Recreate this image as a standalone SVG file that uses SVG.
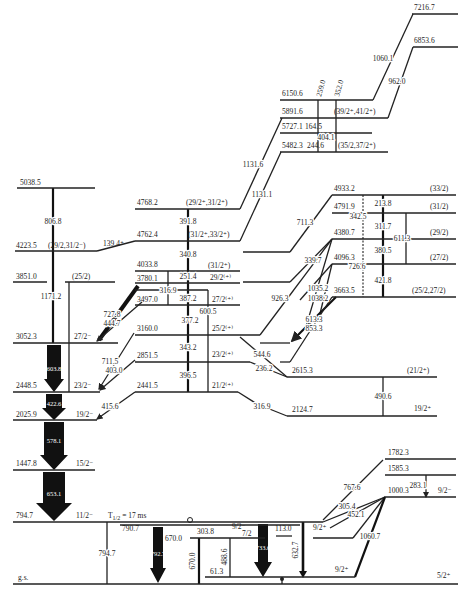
<svg xmlns="http://www.w3.org/2000/svg" width="462" height="591" viewBox="0 0 462 591">
<defs>
<style>
.t{font-family:"Liberation Serif","DejaVu Serif",serif;font-size:7.5px;fill:#222}
.s{font-size:6.5px}
.m{text-anchor:middle}
.h{paint-order:stroke;stroke:#fff;stroke-width:2.6px;stroke-linejoin:round}
.w{fill:#fff;font-size:6.5px;text-anchor:middle}
.lv{stroke:#222;stroke-width:1.4;fill:none}
.tr{stroke:#222;stroke-width:1.3;fill:none}
.tk{stroke:#111;stroke-width:2.2;fill:none}
.bk{fill:#111;stroke:none}
.dt{stroke:#222;stroke-width:1.1;stroke-dasharray:2 1.5;fill:none}
</style>
<marker id="ah" viewBox="0 0 6 6" refX="5" refY="3" markerWidth="5" markerHeight="5" orient="auto"><path d="M0,0L6,3L0,6z" fill="#222"/></marker>
</defs>
<rect width="462" height="591" fill="#fff"/>

<!-- connectors / transitions -->
<g id="connectors">
<!-- left cascade -->
<line class="tk" x1="53" y1="188" x2="53" y2="251"/>
<line class="tk" x1="53" y1="251" x2="53" y2="343" stroke-width="2.8"/>
<line class="tr" x1="69" y1="282" x2="69" y2="392"/>
<path class="bk" d="M47,345H61V379H64L54,392L44,379H47Z"/>
<path class="bk" d="M46,394H62V408H66L54,420L42,408H46Z"/>
<path class="bk" d="M44,422H64V455H68L54,470L40,455H44Z"/>
<path class="bk" d="M43,472H65V503H72L54,521L36,503H43Z"/>
<line class="tr" x1="107" y1="522" x2="107" y2="584"/>
<!-- feeders of 3052.3 / 2448.5 / 2025.9 -->
<line x1="138" y1="286" x2="99" y2="340" stroke="#111" stroke-width="4"/>
<line class="tr" x1="142" y1="302" x2="97" y2="341" marker-end="url(#ah)"/>
<line class="tr" x1="134" y1="333" x2="99" y2="389" marker-end="url(#ah)"/>
<line class="tr" x1="135" y1="360" x2="100" y2="390" marker-end="url(#ah)"/>
<line class="tr" x1="135" y1="392" x2="97" y2="419" marker-end="url(#ah)"/>
<!-- slanted link 4223.5 -->
<line class="lv" x1="97" y1="251" x2="135" y2="241"/>
<!-- middle band -->
<line class="tk" x1="188" y1="209" x2="188" y2="392"/>
<line class="tr" x1="168" y1="271" x2="168" y2="305"/>
<line class="tr" x1="208" y1="290" x2="208" y2="392" stroke-width="1.6"/>
<line class="lv" x1="135" y1="290" x2="208" y2="290"/>
<line class="tr" x1="240" y1="209" x2="282" y2="118"/>
<line class="tr" x1="240" y1="241" x2="281" y2="152"/>
<line class="tr" x1="243" y1="252" x2="290" y2="252"/>
<line class="tr" x1="290" y1="252" x2="332" y2="195"/>
<line class="tr" x1="243" y1="282" x2="290" y2="282"/>
<line class="tr" x1="290" y1="282" x2="332" y2="239"/>
<line class="tr" x1="260" y1="335" x2="332" y2="239"/>
<line class="tr" x1="305" y1="330" x2="332" y2="239"/>
<line class="tr" x1="300" y1="300" x2="332" y2="264"/>
<line class="tr" x1="318" y1="322" x2="332" y2="264"/>
<line class="tr" x1="260" y1="343" x2="290" y2="343"/>
<line x1="336" y1="297" x2="292" y2="341" stroke="#111" stroke-width="2.2" marker-end="url(#ah)"/>
<line class="tr" x1="280" y1="362" x2="290" y2="362"/>
<line class="tr" x1="290" y1="362" x2="332" y2="297"/>
<line class="tr" x1="240" y1="337" x2="287" y2="377"/>
<line class="tr" x1="250" y1="362" x2="287" y2="377"/>
<line class="tr" x1="238" y1="392" x2="257" y2="404"/>
<line class="tr" x1="257" y1="404" x2="287" y2="416"/>
<line class="tr" x1="383" y1="377" x2="383" y2="416" stroke-width="1.6"/>
<!-- right upper group -->
<line class="tk" x1="383" y1="195" x2="383" y2="297"/>
<line class="dt" x1="363" y1="195" x2="363" y2="297"/>
<line class="tr" x1="406" y1="213" x2="406" y2="264"/>
<!-- top group -->
<line class="tr" x1="373" y1="100" x2="413" y2="14" stroke-width="1.6"/>
<line class="tr" x1="388" y1="118" x2="413" y2="47" stroke-width="1.6"/>
<line class="tr" x1="318" y1="100" x2="318" y2="152" stroke-width="1.8"/>
<line class="tr" x1="336" y1="100" x2="336" y2="152" stroke-width="1.8"/>
<!-- bottom -->
<path class="bk" d="M153,527H163V568H166L158,583L150,568H153Z"/>
<line class="tk" x1="199" y1="538" x2="199" y2="584"/>
<line class="tr" x1="230" y1="538" x2="230" y2="577"/>
<path class="bk" d="M258,524H268V562H272L263,577L254,562H258Z"/>
<line x1="303" y1="522" x2="303" y2="572" stroke="#111" stroke-width="2.6"/>
<path class="bk" d="M299,571H307L303,578Z"/>
<line class="tr" x1="282" y1="577" x2="282" y2="584"/>
<circle cx="282" cy="579" r="2" fill="#222"/>
<circle cx="190" cy="520" r="2.5" fill="#fff" stroke="#222" stroke-width="1"/>
<line class="tr" x1="323" y1="522" x2="385" y2="497"/>
<line class="tr" x1="323" y1="520" x2="383" y2="460"/>
<line class="tr" x1="313" y1="538" x2="353" y2="538"/>
<line class="tr" x1="353" y1="538" x2="385" y2="497"/>
<line class="tr" x1="330" y1="528" x2="385" y2="497"/>
<line class="tk" x1="355" y1="577" x2="385" y2="497"/>
<line class="tr" x1="426" y1="475" x2="426" y2="497" marker-end="url(#ah)"/>
</g>

<!-- left column levels -->
<g id="lv5038"><line class="lv" x1="17" y1="188" x2="95" y2="188"/><text class="t" x="20" y="185">5038.5</text></g>
<g id="lv4223"><line class="lv" x1="15" y1="251" x2="97" y2="251"/><text class="t" x="16" y="248">4223.5</text><text class="t" x="48" y="248">(29/2,31/2⁻)</text><text class="t" x="103" y="246">139.4⁺</text></g>
<g id="lv3851"><line class="lv" x1="13" y1="282" x2="47" y2="282"/><text class="t" x="16" y="279">3851.0</text></g>
<g id="lv3851b"><line class="lv" x1="65" y1="282" x2="115" y2="282"/><text class="t" x="72" y="279">(25/2)</text></g>
<g id="lv3052"><line class="lv" x1="13" y1="343" x2="118" y2="343"/><text class="t" x="16" y="339">3052.3</text><text class="t" x="74" y="339">27/2⁻</text></g>
<g id="lv2448"><line class="lv" x1="13" y1="392" x2="100" y2="392"/><text class="t" x="16" y="388">2448.5</text><text class="t" x="74" y="388">23/2⁻</text></g>
<g id="lv2025"><line class="lv" x1="13" y1="420" x2="97" y2="420"/><text class="t" x="16" y="417">2025.9</text><text class="t" x="76" y="417">19/2⁻</text></g>
<g id="lv1447"><line class="lv" x1="13" y1="470" x2="95" y2="470"/><text class="t" x="16" y="466">1447.8</text><text class="t" x="76" y="466">15/2⁻</text></g>
<g id="lv794"><line class="lv" x1="13" y1="522" x2="323" y2="522" stroke-width="1.7"/><line class="lv" x1="120" y1="525" x2="300" y2="525" stroke-width="1"/><text class="t" x="16" y="518">794.7</text><text class="t" x="76" y="518">11/2⁻</text><text class="t" x="108" y="518" font-size="9">T<tspan font-size="6" dy="2">1/2</tspan><tspan dy="-2"> = 17 ms</tspan></text><text class="t" x="313" y="530">9/2⁺</text></g>
<g id="lvgs"><line class="lv" x1="13" y1="584" x2="458" y2="584" stroke-width="2"/><text class="t" x="18" y="580">g.s.</text><text class="t" x="437" y="578">5/2⁺</text></g>

<!-- middle band levels -->
<g id="lv4768"><line class="lv" x1="135" y1="209" x2="240" y2="209"/><text class="t" x="137" y="205">4768.2</text><text class="t" x="186" y="205">(29/2⁺,31/2⁺)</text></g>
<g id="lv4762"><line class="lv" x1="135" y1="241" x2="240" y2="241"/><text class="t" x="137" y="237">4762.4</text><text class="t" x="188" y="237">(31/2⁺,33/2⁺)</text></g>
<g id="lv4033"><line class="lv" x1="135" y1="271" x2="240" y2="271"/><text class="t" x="137" y="267">4033.8</text><text class="t" x="208" y="268">(31/2⁺)</text></g>
<g id="lv3780"><line class="lv" x1="135" y1="283" x2="240" y2="283"/><text class="t" x="137" y="281">3780.1</text><text class="t" x="210" y="280">29/2⁽⁺⁾</text></g>
<g id="lv3497"><line class="lv" x1="135" y1="305" x2="240" y2="305"/><text class="t" x="137" y="302">3497.0</text><text class="t" x="212" y="302">27/2⁽⁺⁾</text></g>
<g id="lv3160"><line class="lv" x1="135" y1="335" x2="260" y2="335"/><text class="t" x="137" y="331">3160.0</text><text class="t" x="212" y="331">25/2⁽⁺⁾</text></g>
<g id="lv2851"><line class="lv" x1="135" y1="362" x2="250" y2="362"/><text class="t" x="137" y="358">2851.5</text><text class="t" x="212" y="357">23/2⁽⁺⁾</text></g>
<g id="lv2441"><line class="lv" x1="135" y1="392" x2="238" y2="392"/><text class="t" x="137" y="388">2441.5</text><text class="t" x="212" y="388">21/2⁽⁺⁾</text></g>
<g id="lv2615"><line class="lv" x1="287" y1="377" x2="437" y2="377"/><text class="t" x="292" y="373">2615.3</text><text class="t" x="407" y="373">(21/2⁺)</text></g>
<g id="lv2124"><line class="lv" x1="287" y1="416" x2="437" y2="416"/><text class="t" x="292" y="412">2124.7</text><text class="t" x="414" y="411">19/2⁺</text></g>

<!-- right upper group -->
<g id="lv4933"><line class="lv" x1="332" y1="195" x2="456" y2="195"/><text class="t" x="334" y="191">4933.2</text><text class="t" x="430" y="191">(33/2)</text></g>
<g id="lv4791"><line class="lv" x1="332" y1="213" x2="456" y2="213"/><text class="t" x="334" y="209">4791.9</text><text class="t" x="430" y="209">(31/2)</text></g>
<g id="lv4380"><line class="lv" x1="332" y1="239" x2="456" y2="239"/><text class="t" x="334" y="235">4380.7</text><text class="t" x="430" y="235">(29/2)</text></g>
<g id="lv4096"><line class="lv" x1="332" y1="264" x2="456" y2="264"/><text class="t" x="334" y="260">4096.3</text><text class="t" x="430" y="260">(27/2)</text></g>
<g id="lv3663"><line class="lv" x1="332" y1="297" x2="456" y2="297"/><text class="t" x="334" y="293">3663.5</text><text class="t" x="412" y="293">(25/2,27/2)</text></g>

<!-- top group -->
<g id="lv7216"><line class="lv" x1="412" y1="14" x2="458" y2="14"/><text class="t" x="414" y="10">7216.7</text></g>
<g id="lv6853"><line class="lv" x1="413" y1="47" x2="458" y2="47"/><text class="t" x="414" y="43">6853.6</text></g>
<g id="lv6150"><line class="lv" x1="280" y1="100" x2="373" y2="100"/><text class="t" x="282" y="96">6150.6</text></g>
<g id="lv5891"><line class="lv" x1="280" y1="118" x2="388" y2="118"/><text class="t" x="282" y="114">5891.6</text><text class="t" x="334" y="114">(39/2⁺,41/2⁺)</text></g>
<g id="lv5727"><line class="lv" x1="280" y1="133" x2="372" y2="133"/><text class="t" x="282" y="129">5727.1</text></g>
<g id="lv5482"><line class="lv" x1="280" y1="152" x2="388" y2="152"/><text class="t" x="282" y="148">5482.3</text><text class="t" x="338" y="148">(35/2,37/2⁺)</text></g>

<!-- bottom right levels -->
<g id="lv1782"><line class="lv" x1="385" y1="459" x2="456" y2="459"/><text class="t" x="388" y="455">1782.3</text></g>
<g id="lv1585"><line class="lv" x1="385" y1="475" x2="456" y2="475"/><text class="t" x="388" y="471">1585.3</text></g>
<g id="lv1000"><line class="lv" x1="385" y1="497" x2="456" y2="497"/><text class="t" x="388" y="493">1000.3</text><text class="t" x="438" y="493">9/2⁻</text></g>
<g id="lv577"><line class="lv" x1="205" y1="577" x2="355" y2="577"/><text class="t" x="335" y="572">9/2⁺</text></g>
<g id="lv538"><line class="lv" x1="190" y1="538" x2="265" y2="538"/><text class="t" x="197" y="534">303.8</text><text class="t" x="232" y="529">9/2⁻</text><text class="t" x="242" y="536">7/2</text></g>

<!-- transition labels -->
<g id="labels">
<text class="t m h" x="53" y="224">806.8</text>
<text class="t m h" x="51" y="299">1171.2</text>
<text class="w" x="54" y="371">603.8</text>
<text class="w" x="54" y="406">422.6</text>
<text class="w" x="54" y="443">578.1</text>
<text class="w" x="54" y="496">653.1</text>
<text class="t m h" x="112" y="317">727.8</text>
<text class="t m h" x="112" y="326">444.7</text>
<text class="t m h" x="110" y="364">711.5</text>
<text class="t m h" x="114" y="373">403.0</text>
<text class="t m h" x="110" y="409">415.6</text>
<text class="t m h" x="107" y="556">794.7</text>
<text class="t" x="122" y="531">790.7</text>
<text class="w" x="158" y="556">792.7</text>
<text class="t" x="165" y="541">670.0</text>
<text class="t m h" x="195" y="561" transform="rotate(-90 195 561)">670.0</text>
<text class="t m h" x="227" y="557" transform="rotate(-90 227 557)">488.6</text>
<text class="t" x="210" y="574">61.3</text>
<text class="w" x="263" y="550">733.6</text>
<text class="t" x="275" y="531">113.0</text>
<line class="tr" x1="276" y1="536" x2="292" y2="536"/>
<text class="t m h" x="298" y="550" transform="rotate(-90 298 550)">632.7</text>
<text class="t m h" x="352" y="490">767.6</text>
<text class="t m h" x="347" y="509">305.4</text>
<text class="t m h" x="356" y="517">452.1</text>
<text class="t m h" x="370" y="539">1060.7</text>
<text class="t m h" x="418" y="488">283.1</text>
<!-- middle -->
<text class="t m h" x="188" y="224">391.8</text>
<text class="t m h" x="188" y="257">340.8</text>
<text class="t m h" x="188" y="279">251.4</text>
<text class="t m h" x="168" y="293">316.9</text>
<text class="t m h" x="188" y="301">387.2</text>
<text class="t m h" x="208" y="314">600.5</text>
<text class="t m h" x="190" y="323">377.2</text>
<text class="t m h" x="188" y="350">343.2</text>
<text class="t m h" x="188" y="378">396.5</text>
<text class="t m h" x="262" y="409">316.9</text>
<text class="t m h" x="262" y="357">544.6</text>
<text class="t m h" x="264" y="371">236.2</text>
<text class="t m h" x="383" y="399">490.6</text>
<text class="t m h" x="253" y="167">1131.6</text>
<text class="t m h" x="262" y="197">1131.1</text>
<text class="t m h" x="305" y="225">711.3</text>
<text class="t m h" x="313" y="263">339.7</text>
<text class="t m h" x="280" y="301">926.3</text>
<text class="t m h" x="318" y="291">1035.2</text>
<text class="t m h" x="318" y="301">1038.2</text>
<text class="t m h" x="314" y="322">613.3</text>
<text class="t m h" x="314" y="331">853.3</text>
<!-- right upper -->
<text class="t m h" x="383" y="206">213.8</text>
<text class="t m h" x="358" y="219">342.5</text>
<text class="t m h" x="383" y="229">311.7</text>
<text class="t m h" x="402" y="241">611.3</text>
<text class="t m h" x="383" y="253">380.5</text>
<text class="t m h" x="357" y="269">726.6</text>
<text class="t m h" x="383" y="283">421.8</text>
<!-- top -->
<text class="t m h" x="383" y="61">1060.1</text>
<text class="t m h" x="397" y="84">962.0</text>
<text class="t" x="305" y="129">164.5</text>
<text class="t m h" x="326" y="140">404.1</text>
<text class="t" x="307" y="148">244.6</text>
<text class="t" x="321" y="97" transform="rotate(-75 321 97)">259.0</text>
<text class="t" x="339" y="97" transform="rotate(-75 339 97)">352.0</text>
</g>
</svg>
